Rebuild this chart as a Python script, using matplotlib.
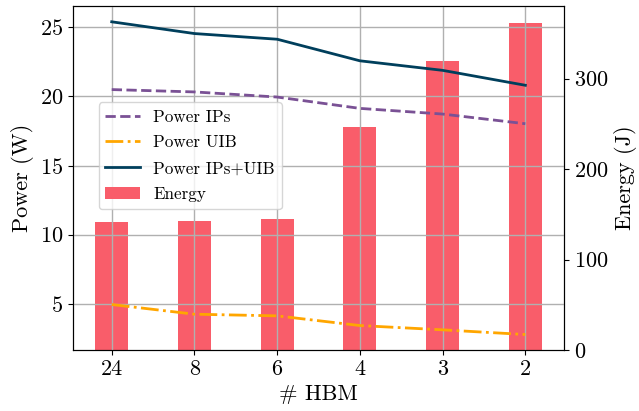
import matplotlib
matplotlib.use('Agg')
import matplotlib.pyplot as plt
import numpy as np

plt.rcParams['font.family'] = 'serif'
plt.rcParams['font.serif'] = ['cmr10']
plt.rcParams['mathtext.fontset'] = 'cm'
plt.rcParams['axes.formatter.use_mathtext'] = True

hbm = ['24', '8', '6', '4', '3', '2']
power_ips = [20.49, 20.32, 19.95, 19.13, 18.72, 18.02]
power_uib = [4.95, 4.25, 4.13, 3.43, 3.12, 2.78]
power_total = [25.39, 24.54, 24.13, 22.57, 21.88, 20.80]
energy = [142, 143, 145, 247, 320, 362]


def main():
    x = np.arange(len(hbm))

    fig, ax = plt.subplots(figsize=(6.39, 4.11), dpi=100)
    fig.subplots_adjust(left=0.114, right=0.883, bottom=0.148, top=0.985)
    ax2 = ax.twinx()

    # bars go on the right axis, kept behind the power lines and grid
    ax.set_zorder(ax2.get_zorder() + 1)
    ax.patch.set_visible(False)

    bars = ax2.bar(x, energy, width=0.4, color='#f95d6a', label='Energy')
    l1, = ax.plot(x, power_ips, color='#7a5195', linestyle='--', linewidth=2,
                  label='Power IPs')
    l2, = ax.plot(x, power_uib, color='#ffa600', linestyle='-.', linewidth=2,
                  label='Power UIB')
    l3, = ax.plot(x, power_total, color='#003f5c', linestyle='-', linewidth=2,
                  label='Power IPs+UIB')

    ax.set_xticks(x)
    ax.set_xticklabels(hbm)
    ax.set_xlabel('# HBM', fontsize=16)
    ax.set_ylabel('Power (W)', fontsize=16)
    ax2.set_ylabel('Energy (J)', fontsize=16)
    ax.tick_params(labelsize=16)
    ax2.tick_params(labelsize=16)
    ax.set_yticks([5, 10, 15, 20, 25])
    ax2.set_yticks([0, 100, 200, 300])

    ax.grid(True, color='#b0b0b0', linewidth=1)

    ax.legend(handles=[l1, l2, l3, bars], loc='upper left',
              bbox_to_anchor=(0.035, 0.745), fontsize=12.3,
              labelspacing=0.62)

    plt.savefig('out.png', dpi=100)


main()
